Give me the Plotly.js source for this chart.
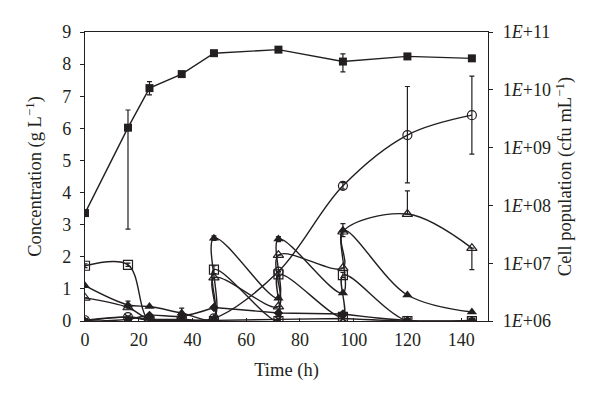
<!DOCTYPE html>
<html><head><meta charset="utf-8">
<script src="https://cdn.plot.ly/plotly-3.0.1.min.js"></script>
<style>html,body{margin:0;padding:0;background:#fff}#c{width:600px;height:401px}</style>
</head><body><div id="c"></div>
<script>
// Time points (h); pulses of feed at 48, 72 and 96 h give paired values
var timeFed = [0, 16, 24, 36, 48, 48, 72, 72, 96, 96, 120, 144];
var timeCells = [0, 16, 24, 36, 48, 72, 96, 120, 144];

// Concentrations (g L-1), left axis
var openSquare   = [1.72, 1.75, 0.0, 0.0, 0.0, 1.6, 0.0, 1.45, 0.13, 1.43, 0.0, 0.0];
var openSquareErr= [0.06, 0.05, null, null, null, 0.12, null, 0.08, null, 0.08, null, null];
var filledTri    = [1.1, 0.5, 0.45, 0.25, 0.08, 2.58, 0.71, 2.55, 0.87, 2.83, 0.81, 0.28];
var filledTriErr = [null, 0.12, null, 0.15, null, 0.07, null, 0.08, null, 0.2, null, null];
var openTri      = [0.72, 0.42, 0.05, 0.05, 0.05, 1.35, 0.45, 2.05, 1.65, 2.78, 3.33, 2.27];
var openTriErrUp = [null, null, null, null, null, null, null, null, null, null, 0.72, null];
var openTriErrDn = [null, null, null, null, null, null, null, null, null, null, null, 0.67];
var diamond      = [0.0, 0.05, 0.18, 0.15, 0.42, 0.42, 0.25, 0.25, 0.22, 0.22, 0.02, 0.02];
var crossS       = [0.0, 0.12, 0.02, 0.02, 0.02, 0.02, 0.05, 0.05, 0.08, 0.08, 0.0, 0.0];

// Cell populations (cfu mL-1), right axis
var cellsSquare   = [7.36e7, 2.21e9, 1.07e10, 1.87e10, 4.30e10, 4.95e10, 3.08e10, 3.78e10, 3.50e10];
var cellsSquareHi = [null, 4.47e9, 1.38e10, null, null, null, 4.19e10, null, null];
var cellsSquareLo = [null, 3.88e7, 8.15e9, null, null, null, 2.05e10, null, null];
var cellsCircle   = [1.03e6, 1.17e6, 1.07e6, 1.07e6, 1.11e6, 7.17e6, 2.18e8, 1.65e9, 3.64e9];
var cellsCircleHi = [null, null, null, null, null, null, 2.48e8, 1.14e10, 1.73e10];
var cellsCircleLo = [null, null, null, null, null, null, 1.92e8, 2.45e8, 7.74e8];

var xTicks = [0, 20, 40, 60, 80, 100, 120, 140];
var yTicks = [0, 1, 2, 3, 4, 5, 6, 7, 8, 9];
var y2TickVals = [1e6, 1e7, 1e8, 1e9, 1e10, 1e11];
var y2TickText = ['1<i>E</i>+06', '1<i>E</i>+07', '1<i>E</i>+08', '1<i>E</i>+09', '1<i>E</i>+10', '1<i>E</i>+11'];

var INK = '#231f20';
function errs(vals, hi, lo) {
  return {
    up: vals.map(function (v, i) { return hi[i] == null ? null : hi[i] - v; }),
    dn: vals.map(function (v, i) { return lo[i] == null ? null : v - lo[i]; })
  };
}
function symErr(arr) {
  return {type: 'data', array: arr, symmetric: true, color: INK, thickness: 1.2, width: 2.5};
}
var line = {color: INK, width: 1.4, shape: 'spline', smoothing: 1};

var sqE = errs(cellsSquare, cellsSquareHi, cellsSquareLo);
var ciE = errs(cellsCircle, cellsCircleHi, cellsCircleLo);

var traces = [
  {x: timeFed, y: diamond, mode: 'lines+markers', line: line,
   marker: {symbol: 'diamond', size: 7, color: INK}},
  {x: timeFed, y: crossS, mode: 'lines+markers', line: line,
   marker: {symbol: 'x-thin-open', size: 7, color: INK, line: {width: 1.4, color: INK}}},
  {x: timeFed, y: openTri, mode: 'lines+markers', line: line,
   error_y: {type: 'data', array: openTriErrUp, arrayminus: openTriErrDn, symmetric: false, color: INK, thickness: 1.2, width: 2.5},
   marker: {symbol: 'triangle-up-open', size: 9, color: INK, line: {width: 1.2, color: INK}}},
  {x: timeFed, y: filledTri, mode: 'lines+markers', line: line, error_y: symErr(filledTriErr),
   marker: {symbol: 'triangle-up', size: 9, color: INK}},
  {x: timeFed, y: openSquare, mode: 'lines+markers', line: line, error_y: symErr(openSquareErr),
   marker: {symbol: 'square-open', size: 9, color: INK, line: {width: 1.2, color: INK}}},
  {x: timeCells, y: cellsCircle, yaxis: 'y2', mode: 'lines+markers', line: line,
   error_y: {type: 'data', array: ciE.up, arrayminus: ciE.dn, symmetric: false, color: INK, thickness: 1.2, width: 2.5},
   marker: {symbol: 'circle-open', size: 9, color: INK, line: {width: 1.2, color: INK}}},
  {x: timeCells, y: cellsSquare, yaxis: 'y2', mode: 'lines+markers',
   line: {color: INK, width: 1.4, shape: 'linear'},
   error_y: {type: 'data', array: sqE.up, arrayminus: sqE.dn, symmetric: false, color: INK, thickness: 1.2, width: 2.5},
   marker: {symbol: 'square', size: 8, color: INK}}
];

var tickFont = {family: 'Liberation Serif, Times New Roman, serif', size: 18, color: INK};
var titleFont = {family: 'Liberation Serif, Times New Roman, serif', size: 18.5, color: INK};
var layout = {
  width: 600, height: 401,
  margin: {l: 85, r: 112, t: 32, b: 80},
  paper_bgcolor: '#fff', plot_bgcolor: '#fff',
  showlegend: false,
  font: tickFont,
  xaxis: {
    range: [0, 150], tickvals: xTicks, ticks: 'inside', ticklen: 3, tickcolor: INK,
    showline: true, linecolor: INK, linewidth: 1.2, mirror: true, showgrid: false, zeroline: false,
    tickfont: tickFont, ticklabelstandoff: 2, title: {text: 'Time (h)', font: titleFont, standoff: 14}
  },
  yaxis: {
    range: [0, 9], tickvals: yTicks, ticks: 'outside', ticklen: 4, tickcolor: INK,
    showline: true, linecolor: INK, linewidth: 1.2, showgrid: false, zeroline: false,
    tickfont: tickFont, ticklabelstandoff: 5,
    title: {text: 'Concentration (g L<sup>−1</sup>)', font: titleFont, standoff: 15}
  },
  yaxis2: {
    type: 'log', range: [6, 11], overlaying: 'y', side: 'right',
    tickvals: y2TickVals, ticktext: y2TickText, ticks: 'outside', ticklen: 4, tickcolor: INK,
    showline: true, linecolor: INK, linewidth: 1.2, showgrid: false, zeroline: false,
    tickfont: tickFont, ticklabelstandoff: 6,
    title: {text: 'Cell population (cfu mL<sup>−1</sup>)', font: titleFont, standoff: 8}
  }
};
Plotly.newPlot('c', traces, layout, {staticPlot: true, displayModeBar: false});
</script></body></html>
